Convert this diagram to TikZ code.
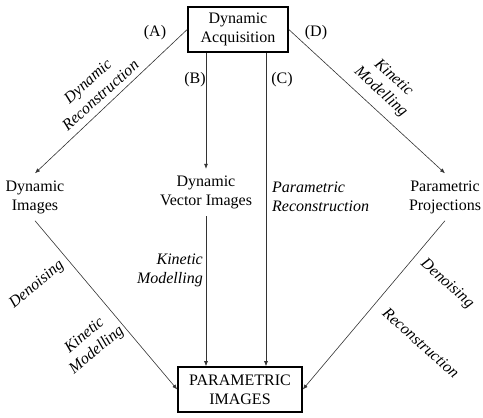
\documentclass[tikz,border=0pt]{standalone}
\usepackage{fontspec}
\setmainfont{Liberation Serif}
\usetikzlibrary{arrows.meta,calc}
\begin{document}
\begin{tikzpicture}[x=1pt,y=-1pt,
  every node/.style={font=\fontsize{16}{19}\selectfont, text=black},
  box/.style={draw=black, line width=1.6pt, align=center, inner sep=0pt},
  txt/.style={align=center, inner sep=7pt},
  lbl/.style={align=center, inner sep=0pt, font=\fontsize{16}{19}\selectfont\itshape},
  tag/.style={inner sep=0pt},
  arr/.style={draw=black!80, line width=0.6pt, -{Latex[length=5pt,width=4pt]}}]
\useasboundingbox (0,0) rectangle (483,418);

\node[box, minimum width=100pt, minimum height=45pt] (acq) at (238,29.5) {Dynamic\\Acquisition};
\node[box, minimum width=124pt, minimum height=45pt] (param) at (240,389.5) {PARAMETRIC\\IMAGES};

\node[txt] (dynimg) at (35,197) {Dynamic\\Images};
\node[txt] (dvi) at (206,192.5) {Dynamic\\Vector Images};
\node[txt] (parproj) at (445,197) {Parametric\\Projections};
\node[lbl, align=left, anchor=west] (parrec) at (272,197) {Parametric\\Reconstruction};

\node[tag] (tA) at (155,33) {(A)};
\node[tag] (tB) at (195,80) {(B)};
\node[tag] (tC) at (282,80) {(C)};
\node[tag] (tD) at (316,33) {(D)};

\node[lbl, rotate=42] (ldr) at (94,88) {Dynamic\\Reconstruction};
\node[lbl, rotate=-42] (lkm1) at (387,85) {Kinetic\\Modelling};
\node[lbl, align=right, anchor=east] (lkm2) at (203,270) {Kinetic\\Modelling};
\node[lbl, rotate=40] (lden1) at (37,285) {Denoising};
\node[lbl, rotate=40] (lkm3) at (91,343) {Kinetic\\Modelling};
\node[lbl, rotate=-42] (lden2) at (447,284) {Denoising};
\node[lbl, rotate=-42] (lrec) at (421,343) {Reconstruction};

\draw[arr] (acq.west) -- (dynimg.north);
\draw[arr] (acq.south -| dvi.north) -- (dvi.north);
\draw[arr] ([xshift=28pt]acq.south) -- ([xshift=26pt]param.north);
\draw[arr] (acq.east) -- (parproj.north);
\draw[arr] (dvi.south) -- (dvi.south |- param.north);
\draw[arr] (dynimg.south) -- (param.west);
\draw[arr] (parproj.south) -- (param.east);
\end{tikzpicture}
\end{document}
